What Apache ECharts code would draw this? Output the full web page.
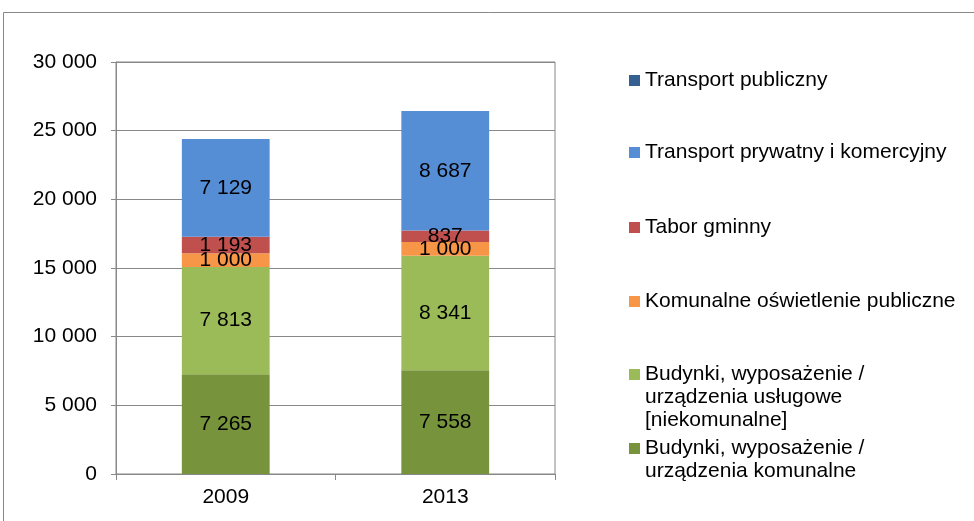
<!DOCTYPE html>
<html><head><meta charset="utf-8">
<script src="https://cdn.jsdelivr.net/npm/echarts@6/dist/echarts.min.js"></script>
<style>html,body{margin:0;padding:0;background:#fff}#c{width:974px;height:521px}</style>
</head><body><div id="c"></div>
<script>
const categories = ['2009', '2013'];
const budynkiKomunalne = [7265, 7558];
const budynkiNiekomunalne = [7813, 8341];
const oswietlenie = [1000, 1000];
const taborGminny = [1193, 837];
const transportPrywatny = [7129, 8687];
const transportPubliczny = [0, 0];
const yTicks = [0, 5000, 10000, 15000, 20000, 25000, 30000];

const names = {
  bk: 'Budynki, wyposażenie / urządzenia komunalne',
  bn: 'Budynki, wyposażenie / urządzenia usługowe [niekomunalne]',
  os: 'Komunalne oświetlenie publiczne',
  tg: 'Tabor gminny',
  tp: 'Transport prywatny i komercyjny',
  pu: 'Transport publiczny'
};
const fmt = v => String(v).replace(/\B(?=(\d{3})+(?!\d))/g, ' ');
const FONT = "'Liberation Sans', Arial, sans-serif";
const FS = 21;
const GRAY = '#888888';

function mk(name, data, color, showLabel) {
  return {
    name, type: 'bar', stack: 'a', data, barWidth: '40%',
    itemStyle: { color },
    label: { show: showLabel, position: 'inside', color: '#000', fontSize: FS, fontFamily: FONT,
      formatter: p => fmt(p.value) },
    emphasis: { disabled: true }
  };
}

const legendSpec = [
  { name: names.pu, iconTop: 75, text: ['Transport publiczny'] },
  { name: names.tp, iconTop: 147, text: ['Transport prywatny i komercyjny'] },
  { name: names.tg, iconTop: 222, text: ['Tabor gminny'] },
  { name: names.os, iconTop: 296, text: ['Komunalne oświetlenie publiczne'] },
  { name: names.bn, iconTop: 369, text: ['Budynki, wyposażenie /', 'urządzenia usługowe', '[niekomunalne]'] },
  { name: names.bk, iconTop: 443, text: ['Budynki, wyposażenie /', 'urządzenia komunalne'] }
];
const LH = 23;
const legends = legendSpec.map(s => {
  const n = s.text.length;
  const blanks = new Array(n - 1).fill('');
  const lines = blanks.concat(s.text);
  const boxH = lines.length * LH;
  return {
    data: [s.name], left: 629, top: s.iconTop + 5.5 - boxH / 2, padding: 0,
    itemWidth: 11, itemHeight: 11, icon: 'rect', selectedMode: false,
    formatter: () => lines.join('\n'),
    textStyle: { color: '#000', fontSize: FS, fontFamily: FONT, lineHeight: LH }
  };
});

const chart = echarts.init(document.getElementById('c'));
chart.setOption({
  animation: false,
  backgroundColor: '#fff',
  graphic: [{ type: 'rect', shape: { x: 3.5, y: 12.5, width: 1000, height: 600 },
    style: { fill: 'none', stroke: GRAY, lineWidth: 1 }, silent: true }],
  legend: legends,
  grid: { left: 116, top: 62, right: 419, bottom: 47, show: true, borderColor: GRAY, borderWidth: 1 },
  xAxis: {
    type: 'category', data: categories,
    axisLine: { lineStyle: { color: GRAY } },
    axisTick: { show: true, length: 6, lineStyle: { color: GRAY } },
    axisLabel: { color: '#000', fontSize: FS, fontFamily: FONT, margin: 13 }
  },
  yAxis: {
    type: 'value', min: 0, max: 30000, interval: 5000,
    axisLine: { show: true, lineStyle: { color: GRAY } },
    axisTick: { show: true, length: 5, lineStyle: { color: GRAY } },
    splitLine: { lineStyle: { color: GRAY } },
    axisLabel: { color: '#000', fontSize: FS, fontFamily: FONT, margin: 19,
      formatter: v => yTicks.includes(v) ? fmt(v) : '' }
  },
  series: [
    mk(names.bk, budynkiKomunalne, '#77933C', true),
    mk(names.bn, budynkiNiekomunalne, '#9BBB59', true),
    mk(names.os, oswietlenie, '#F79646', true),
    mk(names.tg, taborGminny, '#C0504D', true),
    mk(names.tp, transportPrywatny, '#558ED5', true),
    mk(names.pu, transportPubliczny, '#376092', false)
  ]
});
</script></body></html>
